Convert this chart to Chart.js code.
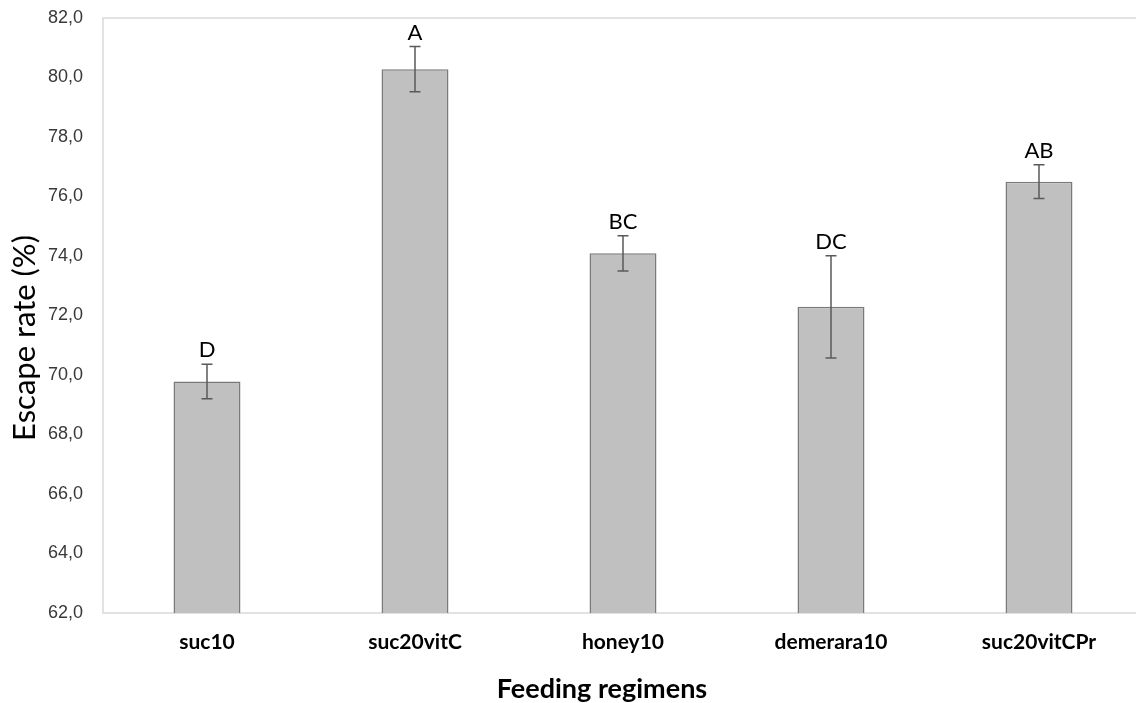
<!DOCTYPE html>
<html>
<head>
<meta charset="utf-8">
<title>Escape rate by feeding regimen</title>
<script src="https://cdn.jsdelivr.net/npm/chart.js@4/dist/chart.umd.min.js"></script>
<style>
  html, body { margin: 0; padding: 0; background: #ffffff; overflow: hidden; }
  #wrap { width: 1136px; height: 703px; overflow: hidden; }
  canvas { display: block; }
</style>
</head>
<body>
<div id="wrap"><canvas id="chart" width="1150" height="703"></canvas></div>
<script>
// Feeding regimens and mean escape rate (%) with standard error
const regimens = ['suc10', 'suc20vitC', 'honey10', 'demerara10', 'suc20vitCPr'];
const escapeRate = [69.78, 80.28, 74.09, 72.29, 76.5];
const stdError = [0.58, 0.76, 0.59, 1.72, 0.57];
const groupLetters = ['D', 'A', 'BC', 'DC', 'AB'];

const yMin = 62;
const yMax = 82;
const yStep = 2;

const xTitleText = 'Feeding regimens';
const yTitleText = 'Escape rate (%)';

// Light frame round the plot area
const plotFrame = {
  id: 'plotFrame',
  beforeDatasetsDraw(chart) {
    const { ctx, chartArea: a } = chart;
    ctx.save();
    ctx.strokeStyle = '#d9d9d9';
    ctx.lineWidth = 1.5;
    ctx.strokeRect(a.left, a.top, a.right - a.left, a.bottom - a.top);
    ctx.restore();
  }
};

// Error bars and significance letters above each bar
const errorBars = {
  id: 'errorBars',
  afterDatasetsDraw(chart) {
    const { ctx } = chart;
    const yScale = chart.scales.y;
    const meta = chart.getDatasetMeta(0);
    ctx.save();
    meta.data.forEach((bar, i) => {
      const x = bar.x;
      const hi = yScale.getPixelForValue(escapeRate[i] + stdError[i]);
      const lo = yScale.getPixelForValue(escapeRate[i] - stdError[i]);
      ctx.strokeStyle = '#595959';
      ctx.lineWidth = 1.5;
      ctx.beginPath();
      ctx.moveTo(x, hi); ctx.lineTo(x, lo);
      ctx.moveTo(x - 5.5, hi); ctx.lineTo(x + 5.5, hi);
      ctx.moveTo(x - 5.5, lo); ctx.lineTo(x + 5.5, lo);
      ctx.stroke();
      ctx.fillStyle = '#000000';
      ctx.font = '22px Lato';
      ctx.textAlign = 'center';
      ctx.textBaseline = 'alphabetic';
      ctx.fillText(groupLetters[i], x, hi - 7);
    });
    ctx.restore();
  }
};

// Axis titles
const axisTitles = {
  id: 'axisTitles',
  afterDraw(chart) {
    const { ctx } = chart;
    ctx.save();
    ctx.fillStyle = '#000000';
    ctx.textAlign = 'center';
    ctx.textBaseline = 'middle';
    ctx.font = 'bold 27px Lato';
    ctx.fillText(xTitleText, 602, 689);
    ctx.translate(25, 338);
    ctx.rotate(-Math.PI / 2);
    ctx.font = '31px Lato';
    ctx.fillText(yTitleText, 0, 0);
    ctx.restore();
  }
};

new Chart(document.getElementById('chart'), {
  type: 'bar',
  data: {
    labels: regimens,
    datasets: [{
      data: escapeRate,
      backgroundColor: '#c0c0c0',
      borderColor: '#7a7a7a',
      borderWidth: 1.5,
      categoryPercentage: 1,
      barPercentage: 0.322
    }]
  },
  options: {
    responsive: false,
    devicePixelRatio: 1,
    animation: false,
    layout: { padding: { top: 18, right: 7, bottom: 0, left: 0 } },
    plugins: {
      legend: { display: false },
      tooltip: { enabled: false }
    },
    scales: {
      x: {
        grid: { display: false, drawTicks: false },
        border: { display: false },
        ticks: {
          color: '#000000',
          font: { family: 'Lato', size: 21, weight: 'bold' },
          padding: 17,
          maxRotation: 0
        },
        afterFit(scale) { scale.height = 90; }
      },
      y: {
        min: yMin,
        max: yMax,
        grid: { display: false, drawTicks: false },
        border: { display: false },
        ticks: {
          stepSize: yStep,
          color: '#383838',
          font: { family: 'Liberation Sans', size: 18 },
          padding: 20,
          callback: v => v.toFixed(1).replace('.', ',')
        },
        afterFit(scale) {
          scale.width = 103;
          scale.paddingTop = 0;
          scale.paddingBottom = 0;
        }
      }
    }
  },
  plugins: [plotFrame, errorBars, axisTitles]
});
</script>
</body>
</html>
